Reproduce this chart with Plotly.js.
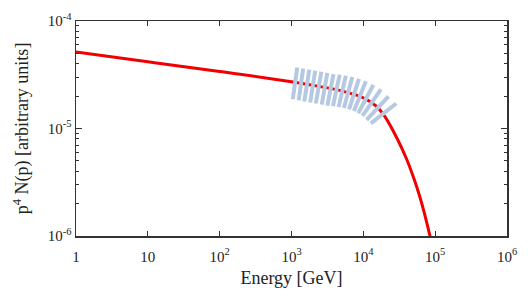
<!DOCTYPE html>
<html>
<head>
<meta charset="utf-8">
<script src="https://cdn.plot.ly/plotly-3.0.1.min.js"></script>
<style>html,body{margin:0;padding:0;background:#fff;}#plot{width:531px;height:302px;}</style>
</head>
<body>
<div id="plot"></div>
<script>
// Red model curve
const curveE = [1, 10, 100, 1000, 3000, 5000, 10000, 15000, 20000, 30000, 40000, 50000, 60000, 70000, 80000, 90000];
const curveY = [5.15e-5, 4.17e-5, 3.39e-5, 2.72e-5, 2.40e-5, 2.24e-5, 1.93e-5, 1.62e-5, 1.29e-5, 7.9e-6, 5.2e-6, 3.5e-6, 2.42e-6, 1.68e-6, 1.17e-6, 8.5e-7];

// Blue band bars (centres)
const bandE = [1119, 1352, 1633, 1972, 2382, 2884, 3483, 4207, 5082, 6138, 7413, 8954, 10815, 13062, 15776, 19099];
const bandY = [2.63e-5, 2.57e-5, 2.51e-5, 2.45e-5, 2.40e-5, 2.34e-5, 2.29e-5, 2.26e-5, 2.21e-5, 2.16e-5, 2.09e-5, 2.00e-5, 1.88e-5, 1.74e-5, 1.55e-5, 1.38e-5];
const bandTilt = [8, 8, 9, 9, 10, 10, 11, 12, 13, 15, 18, 22, 28, 35, 43, 52];

// Tick labels
const xTickVals = [1, 10, 100, 1000, 10000, 100000, 1000000];
const xTickText = ['1', '10', '10<sup>2</sup>', '10<sup>3</sup>', '10<sup>4</sup>', '10<sup>5</sup>', '10<sup>6</sup>'];
const yTickVals = [1e-6, 1e-5, 1e-4];
const yTickText = ['10<sup>-6</sup>', '10<sup>-5</sup>', '10<sup>-4</sup>'];
const yMinorVals = [2e-6, 3e-6, 4e-6, 5e-6, 6e-6, 7e-6, 8e-6, 9e-6, 2e-5, 3e-5, 4e-5, 5e-5, 6e-5, 7e-5, 8e-5, 9e-5];

const font = "Liberation Serif";

const traces = [
  {
    x: curveE, y: curveY, type: 'scatter', mode: 'lines',
    line: {color: 'rgb(240,0,0)', width: 3, shape: 'spline', smoothing: 1},
    hoverinfo: 'skip', showlegend: false
  },
  {
    x: bandE, y: bandY, type: 'scatter', mode: 'markers',
    marker: {symbol: 'line-ns', size: 23, angle: bandTilt,
             line: {width: 4, color: 'rgb(182,201,226)'}},
    hoverinfo: 'skip', showlegend: false
  }
];

const layout = {
  width: 531, height: 302,
  margin: {l: 76, r: 24, t: 21, b: 66},
  paper_bgcolor: '#fff', plot_bgcolor: '#fff',
  font: {family: font, color: '#222', size: 15},
  showlegend: false,
  xaxis: {
    type: 'log', range: [0, 6],
    tickmode: 'array', tickvals: xTickVals, ticktext: xTickText,
    ticks: 'inside', ticklen: 5, tickwidth: 1, tickcolor: '#333',
    ticklabelstandoff: 6,
    showline: true, linecolor: '#333', linewidth: 1.5, mirror: 'ticks',
    showgrid: false, zeroline: false,
    tickfont: {family: font, size: 15, color: '#222'},
    title: {text: 'Energy [GeV]', font: {family: font, size: 18, color: '#222'}, standoff: 8}
  },
  yaxis: {
    type: 'log', range: [-6, -4],
    tickmode: 'array', tickvals: yTickVals, ticktext: yTickText,
    ticks: 'inside', ticklen: 6, tickwidth: 1, tickcolor: '#333',
    minor: {tickmode: 'array', tickvals: yMinorVals, ticks: 'inside', ticklen: 3, tickcolor: '#333', showgrid: false},
    showline: true, linecolor: '#333', linewidth: 1.5, mirror: 'ticks',
    showgrid: false, zeroline: false,
    tickfont: {family: font, size: 15, color: '#222'},
    title: {text: 'p<sup>4</sup> N(p) [arbitrary units]', font: {family: font, size: 18, color: '#222'}, standoff: 14}
  }
};

Plotly.newPlot('plot', traces, layout, {displayModeBar: false, staticPlot: true});
</script>
</body>
</html>
